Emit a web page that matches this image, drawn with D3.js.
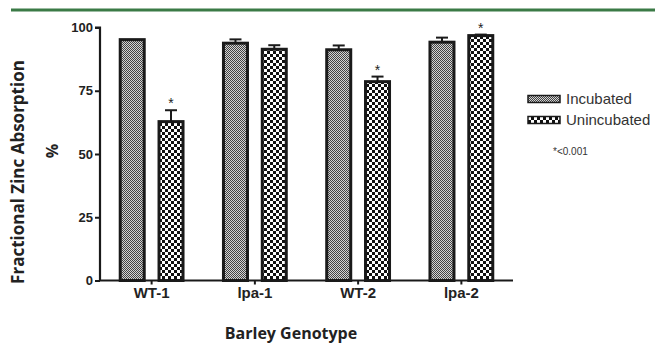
<!DOCTYPE html>
<html>
<head>
<meta charset="utf-8">
<script src="https://cdn.jsdelivr.net/npm/d3@7"></script>
<style>
    body { margin: 0; background: #fff; }
    svg { display: block; }
</style>
</head>
<body>
<svg id="chart"></svg>
<script>
// data
const genotypes = ["WT-1", "lpa-1", "WT-2", "lpa-2"];
const series = ["Incubated", "Unincubated"];
const incubated = [95.2, 93.8, 91.2, 94.2];
const incubatedErr = [0, 1.5, 1.7, 1.8];
const unincubated = [62.8, 91.4, 78.6, 96.8];
const unincubatedErr = [4.5, 1.6, 2.0, 0.4];
const significant = [false, false, false, false, true, false, true, true]; // per bar, series-major
const yTicks = [0, 25, 50, 75, 100];

const width = 655, height = 344;
const svg = d3.select("#chart").attr("width", width).attr("height", height);

// patterns for the two bar fills
const defs = svg.append("defs");
const fine = defs.append("pattern").attr("id", "pat-inc")
    .attr("patternUnits", "userSpaceOnUse").attr("width", 2).attr("height", 2);
fine.append("rect").attr("width", 2).attr("height", 2).attr("fill", "#d4d4d4");
fine.append("rect").attr("width", 1).attr("height", 1).attr("fill", "#444");
fine.append("rect").attr("x", 1).attr("y", 1).attr("width", 1).attr("height", 1).attr("fill", "#444");

const coarse = defs.append("pattern").attr("id", "pat-uninc")
    .attr("patternUnits", "userSpaceOnUse").attr("width", 6).attr("height", 6);
coarse.append("rect").attr("width", 6).attr("height", 6).attr("fill", "#fff");
coarse.append("rect").attr("width", 3).attr("height", 3).attr("fill", "#111");
coarse.append("rect").attr("x", 3).attr("y", 3).attr("width", 3).attr("height", 3).attr("fill", "#111");

const fills = { "Incubated": "url(#pat-inc)", "Unincubated": "url(#pat-uninc)" };

// green rule at top
svg.append("line")
    .attr("x1", 11).attr("x2", width).attr("y1", 10).attr("y2", 10)
    .attr("stroke", "#3b7a46").attr("stroke-width", 3);

const x = d3.scaleBand().domain(genotypes).range([100, 513]);
const xOff = d3.scalePoint().domain(series).range([-19.4, 19.4]);
const y = d3.scaleLinear().domain([0, 100]).range([280.5, 27.5]);
const barW = 24;

const data = [];
series.forEach((s, si) => {
    const vals = si === 0 ? incubated : unincubated;
    const errs = si === 0 ? incubatedErr : unincubatedErr;
    genotypes.forEach((g, gi) => {
        data.push({ g: g, s: s, v: vals[gi], e: errs[gi], star: significant[si * genotypes.length + gi] });
    });
});
const cx = d => x(d.g) + x.bandwidth() / 2 + xOff(d.s);

// error bars (upper whisker only)
const err = svg.append("g").attr("stroke", "#1a1a1a").attr("stroke-width", 2);
err.selectAll(".stem").data(data.filter(d => d.e > 0)).enter().append("line")
    .attr("x1", cx).attr("x2", cx)
    .attr("y1", d => y(d.v)).attr("y2", d => y(d.v + d.e));
err.selectAll(".cap").data(data.filter(d => d.e > 0)).enter().append("line")
    .attr("x1", d => cx(d) - 6).attr("x2", d => cx(d) + 6)
    .attr("y1", d => y(d.v + d.e)).attr("y2", d => y(d.v + d.e));

// bars
svg.selectAll(".bar").data(data).enter().append("rect")
    .attr("class", "bar")
    .attr("x", d => cx(d) - barW / 2)
    .attr("y", d => y(d.v))
    .attr("width", barW)
    .attr("height", d => y(0) - y(d.v))
    .attr("fill", d => fills[d.s])
    .attr("stroke", "#1a1a1a")
    .attr("stroke-width", 3);

// significance stars
svg.selectAll(".star").data(data.filter(d => d.star)).enter().append("text")
    .attr("x", cx)
    .attr("y", d => y(d.v + d.e) - 2)
    .attr("text-anchor", "middle")
    .attr("font-family", "Liberation Sans, Arial, sans-serif")
    .attr("font-size", 14)
    .attr("fill", "#222")
    .text("*");

// axes
const yAxis = svg.append("g")
    .attr("transform", "translate(100,0)")
    .call(d3.axisLeft(y).tickValues(yTicks).tickSize(5).tickPadding(2));
const xAxis = svg.append("g")
    .attr("transform", `translate(0,${y(0)})`)
    .call(d3.axisBottom(x).tickSize(4).tickPadding(3));

[yAxis, xAxis].forEach(a => {
    a.select(".domain").attr("stroke", "#1a1a1a").attr("stroke-width", 2.2);
    a.selectAll(".tick line").attr("stroke", "#1a1a1a").attr("stroke-width", 2);
    a.selectAll("text")
        .attr("font-family", "Liberation Sans, Arial, sans-serif")
        .attr("font-weight", "bold")
        .attr("fill", "#222");
});
yAxis.select(".domain").attr("d", `M0,${y(0)}V${y(100)}H-5`);
xAxis.select(".domain").attr("d", `M100,0H513`);
yAxis.selectAll("text").attr("font-size", 13);
xAxis.selectAll("text").attr("font-size", 15);

// axis titles
svg.append("text")
    .attr("transform", "translate(24,172) rotate(-90)")
    .attr("text-anchor", "middle")
    .attr("font-family", "Open Sans, sans-serif")
    .attr("font-weight", "bold")
    .attr("font-size", 17)
    .attr("fill", "#222")
    .text("Fractional Zinc Absorption");
svg.append("text")
    .attr("transform", "translate(58,151) rotate(-90)")
    .attr("text-anchor", "middle")
    .attr("font-family", "Open Sans, sans-serif")
    .attr("font-weight", "bold")
    .attr("font-size", 16)
    .attr("fill", "#222")
    .text("%");
svg.append("text")
    .attr("x", 291).attr("y", 339)
    .attr("text-anchor", "middle")
    .attr("font-family", "Open Sans, sans-serif")
    .attr("font-weight", "bold")
    .attr("font-size", 16)
    .attr("fill", "#222")
    .text("Barley Genotype");

// legend
const legend = svg.append("g").attr("transform", "translate(528,99)");
series.forEach((s, i) => {
    const row = legend.append("g").attr("transform", `translate(0,${i * 21})`);
    row.append("rect")
        .attr("x", 0).attr("y", -3.5).attr("width", 32).attr("height", 7)
        .attr("fill", fills[s]).attr("stroke", "#1a1a1a").attr("stroke-width", 1.5);
    row.append("text")
        .attr("x", 38).attr("y", 5)
        .attr("font-family", "Liberation Sans, Arial, sans-serif")
        .attr("font-size", 15)
        .attr("fill", "#333")
        .text(s);
});
svg.append("text")
    .attr("x", 553).attr("y", 155)
    .attr("font-family", "Liberation Sans, Arial, sans-serif")
    .attr("font-size", 10)
    .attr("fill", "#333")
    .text("*<0.001");
</script>
</body>
</html>
